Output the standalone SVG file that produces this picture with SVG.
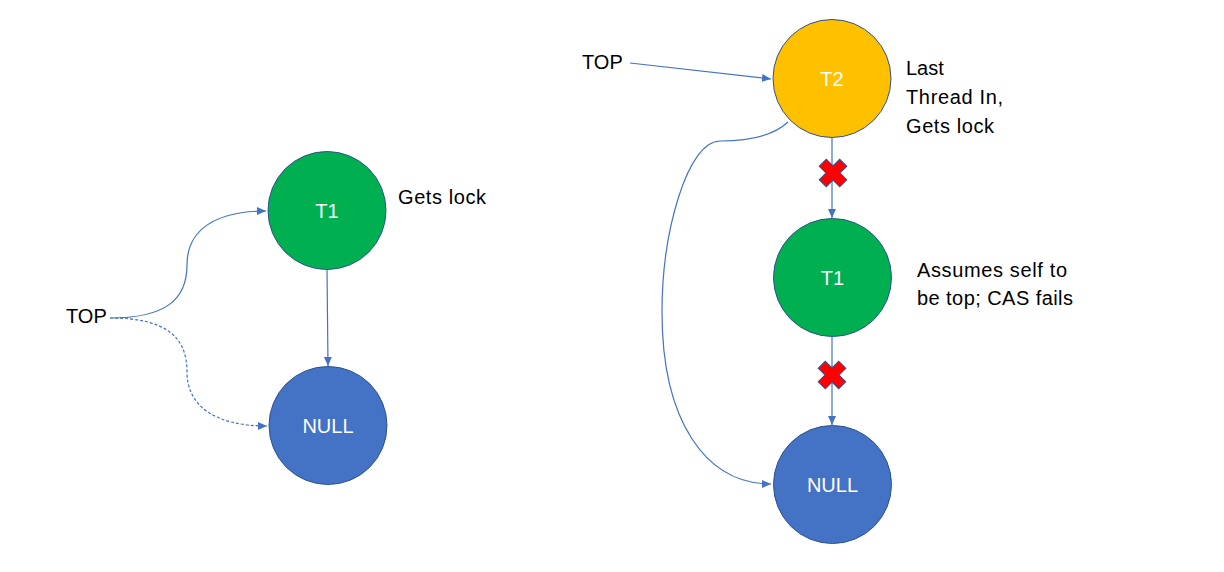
<svg xmlns="http://www.w3.org/2000/svg" width="1224" height="572" viewBox="0 0 1224 572">
<style>
.lbl{font-family:"Liberation Sans",Arial,sans-serif;font-size:20px;fill:#000}
.in{font-family:"Liberation Sans",Arial,sans-serif;font-size:20px;fill:#fff;text-anchor:middle}
.c{stroke:#2F528F;stroke-width:1}
.cn{fill:none;stroke:#4472C4;stroke-width:1.2}
.x{fill:#FF0000;stroke:#2F528F;stroke-width:1}
</style>
<defs>
<marker id="ah" markerWidth="10" markerHeight="10" refX="9" refY="5" orient="auto" markerUnits="userSpaceOnUse">
<path d="M0,1 L9,5 L0,9 Z" fill="#4472C4"/>
</marker>
<polygon id="xm" points="5,-14.5 5,-5 14.5,-5 14.5,5 5,5 5,14.5 -5,14.5 -5,5 -14.5,5 -14.5,-5 -5,-5 -5,-14.5" transform="rotate(45)"/>
</defs>
<rect width="1224" height="572" fill="#fff"/>
<g id="connectors">
<path class="cn" d="M110,318 C165,318 187,300 187,265 C187,230 215,211 266,211" marker-end="url(#ah)"/>
<path class="cn" d="M110,318 C165,318 187,336 187,372 C187,406 215,426 267,426" stroke-dasharray="3,2" marker-end="url(#ah)"/>
<path class="cn" d="M327,269 L328,366" marker-end="url(#ah)"/>
<path class="cn" d="M630,63 L771,79" marker-end="url(#ah)"/>
<path class="cn" d="M832,137 L832,218" marker-end="url(#ah)"/>
<path class="cn" d="M832,336 L832,425" marker-end="url(#ah)"/>
<path class="cn" d="M788,122 C772,137 745,141 720,141 C688,141 662,230 662,312 C662,420 705,484 771,484" marker-end="url(#ah)"/>
<use href="#xm" class="x" x="833" y="173"/>
<use href="#xm" class="x" x="832" y="375"/>
</g>
<g id="top-left"><text class="lbl" x="66" y="323">TOP</text></g>
<g id="t1-left">
<circle class="c" cx="327" cy="210.5" r="59" fill="#00B050"/>
<text class="in" x="327" y="218">T1</text>
</g>
<text class="lbl" x="398" y="204" textLength="88" lengthAdjust="spacing">Gets lock</text>
<g id="null-left">
<circle class="c" cx="328" cy="425.5" r="59" fill="#4472C4"/>
<text class="in" x="328" y="433">NULL</text>
</g>
<g id="top-right"><text class="lbl" x="582" y="69">TOP</text></g>
<g id="t2">
<circle class="c" cx="832" cy="78.5" r="59" fill="#FFC000"/>
<text class="in" x="832" y="86">T2</text>
</g>
<text class="lbl" x="906" y="75">Last</text>
<text class="lbl" x="906" y="104" textLength="97" lengthAdjust="spacing">Thread In,</text>
<text class="lbl" x="906" y="133" textLength="88" lengthAdjust="spacing">Gets lock</text>
<g id="t1-right">
<circle class="c" cx="832.5" cy="277.5" r="59" fill="#00B050"/>
<text class="in" x="832.5" y="285">T1</text>
</g>
<text class="lbl" x="917" y="277" textLength="150" lengthAdjust="spacing">Assumes self to</text>
<text class="lbl" x="917" y="305" textLength="156" lengthAdjust="spacing">be top; CAS fails</text>
<g id="null-right">
<circle class="c" cx="832.5" cy="484.5" r="59" fill="#4472C4"/>
<text class="in" x="832.5" y="492">NULL</text>
</g>
</svg>
